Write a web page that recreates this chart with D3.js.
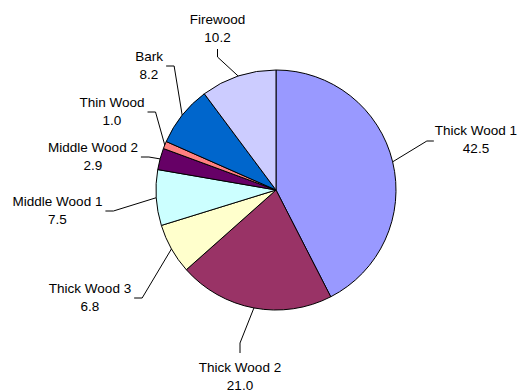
<!DOCTYPE html>
<html>
<head>
<meta charset="utf-8">
<script src="https://cdn.jsdelivr.net/npm/d3@7/dist/d3.min.js"></script>
<style>
  html, body { margin: 0; padding: 0; background: #fff; }
  svg { display: block; }
  text { font-family: "Liberation Sans", Arial, sans-serif; font-size: 13.5px; fill: #000; }
</style>
</head>
<body>
<svg id="chart" width="521" height="392"></svg>
<script>
// Wood fractions, clockwise from 12 o'clock
const categories = ["Thick Wood 1", "Thick Wood 2", "Thick Wood 3", "Middle Wood 1",
                    "Middle Wood 2", "Thin Wood", "Bark", "Firewood"];
const values = [42.5, 21.0, 6.8, 7.5, 2.9, 1.0, 8.2, 10.2];
const colors = ["#9999FF", "#993366", "#FFFFCC", "#CCFFFF",
                "#660066", "#FF8080", "#0066CC", "#CCCCFF"];

// Label placement: offset of the first text line (centre x, baseline) from the pie centre,
// and which side of the label the leader line leaves from.
const labelOffsets = [[200, -55], [-36, 182], [-186, 103], [-218.5, 16],
                      [-183, -38], [-164, -83], [-127, -129], [-58.5, -166]];
const labelSides = ["right", "bottom", "left", "left", "left", "left", "left", "top"];

const cx = 276, cy = 190, radius = 120;

const svg = d3.select("#chart");
const g = svg.append("g").attr("transform", `translate(${cx},${cy})`);

const data = categories.map((c, i) => ({ name: c, value: values[i], color: colors[i], i }));

const pie = d3.pie().sort(null).value(d => d.value).startAngle(0).endAngle(2 * Math.PI);
const arc = d3.arc().innerRadius(0).outerRadius(radius);
const arcs = pie(data);

g.selectAll("path.slice")
  .data(arcs)
  .join("path")
  .attr("class", "slice")
  .attr("d", arc)
  .attr("fill", d => d.data.color)
  .attr("stroke", "#000")
  .attr("stroke-width", 1)
  .attr("stroke-linejoin", "round");

const fmt = d3.format(".1f");
const lineGap = 18;

arcs.forEach(a => {
  const i = a.data.i;
  const [lx, ly] = labelOffsets[i];
  const t = g.append("text").attr("text-anchor", "middle");
  t.append("tspan").attr("x", lx).attr("y", ly).text(a.data.name);
  t.append("tspan").attr("x", lx).attr("y", ly + lineGap).text(fmt(a.data.value));

  const bb = t.node().getBBox();
  const mid = (a.startAngle + a.endAngle) / 2;
  const edge = [radius * Math.sin(mid), -radius * Math.cos(mid)];

  let p0, p1;
  const side = labelSides[i];
  if (side === "left") {
    p0 = [bb.x + bb.width + 3, ly + 5];
    p1 = [p0[0] + 8, p0[1]];
  } else if (side === "right") {
    p0 = [bb.x - 1, ly + 6];
    p1 = [p0[0] - 7, p0[1]];
  } else if (side === "top") {
    p0 = [lx, bb.y + bb.height + 4];
    p1 = [lx, p0[1] + 8];
  } else {
    p0 = [lx, bb.y - 7];
    p1 = [lx, p0[1] - 10];
  }

  g.append("polyline")
    .attr("points", [p0, p1, edge].map(p => p.join(",")).join(" "))
    .attr("fill", "none")
    .attr("stroke", "#000")
    .attr("stroke-width", 1);
});
</script>
</body>
</html>
